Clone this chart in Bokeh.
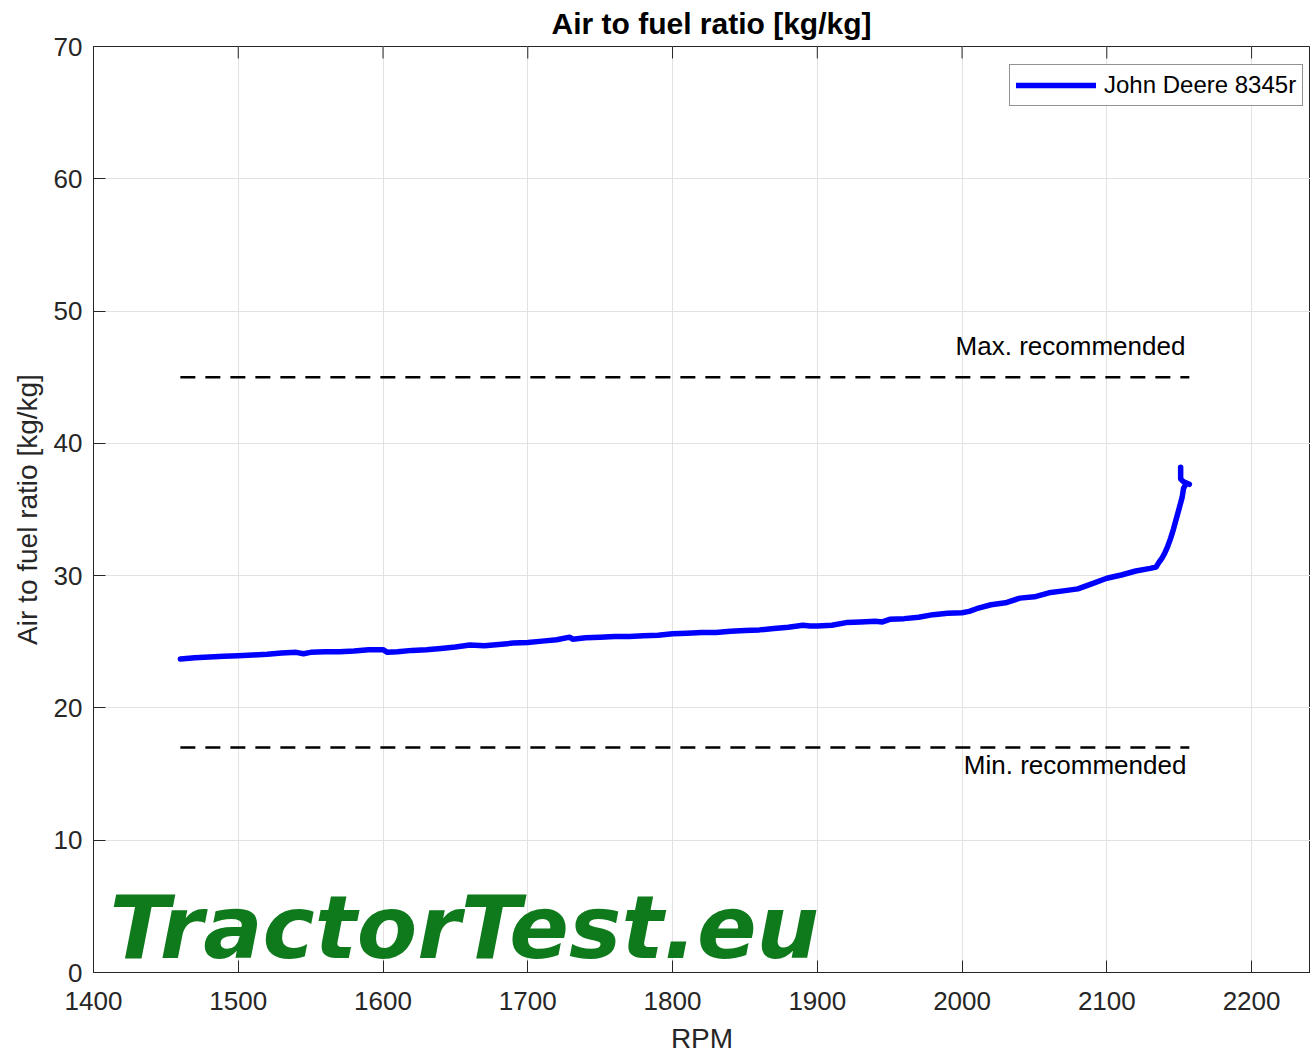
from bokeh.plotting import figure
from bokeh.models import Range1d, Label, Legend, LegendItem, FixedTicker
from bokeh.embed import file_html
from bokeh.resources import INLINE

# ---- data ----
rpm = [1460, 1470, 1480, 1490, 1500, 1510, 1520, 1530, 1540, 1545, 1550, 1560, 1570, 1580,
       1590, 1600, 1603, 1610, 1620, 1630, 1640, 1650, 1660, 1670, 1680, 1690, 1700, 1710,
       1720, 1729, 1731, 1740, 1750, 1760, 1770, 1780, 1790, 1800, 1810, 1820, 1830, 1840,
       1850, 1860, 1870, 1880, 1890, 1895, 1900, 1910, 1920, 1930, 1940, 1945, 1950, 1960,
       1970, 1980, 1990, 2000, 2005, 2010, 2020, 2030, 2040, 2050, 2060, 2070, 2080, 2090,
       2100, 2110, 2120, 2130, 2134, 2136, 2138, 2140, 2142, 2144, 2146, 2148, 2150, 2152,
       2153, 2155, 2157, 2153, 2151, 2151]
afr = [23.7, 23.8, 23.85, 23.9, 23.95, 24.0, 24.05, 24.15, 24.2, 24.1, 24.2, 24.25, 24.25, 24.3,
       24.4, 24.4, 24.2, 24.25, 24.35, 24.4, 24.5, 24.6, 24.75, 24.7, 24.8, 24.9, 24.95, 25.05,
       25.15, 25.35, 25.2, 25.3, 25.35, 25.4, 25.4, 25.45, 25.5, 25.6, 25.65, 25.7, 25.7, 25.8,
       25.85, 25.9, 26.0, 26.1, 26.25, 26.2, 26.2, 26.25, 26.45, 26.5, 26.55, 26.5, 26.7, 26.75,
       26.85, 27.05, 27.15, 27.2, 27.3, 27.5, 27.8, 27.95, 28.3, 28.4, 28.7, 28.85, 29.0, 29.4,
       29.8, 30.05, 30.35, 30.55, 30.65, 31.0, 31.3, 31.7, 32.2, 32.8, 33.5, 34.3, 35.1, 35.9,
       36.6, 37.0, 36.9, 37.1, 37.3, 38.2]
series_name = "John Deere 8345r"
max_recommended = 45
min_recommended = 17
x_ticks = [1400, 1500, 1600, 1700, 1800, 1900, 2000, 2100, 2200]
y_ticks = [0, 10, 20, 30, 40, 50, 60, 70]

FONT = "Liberation Sans"
AX = "#262626"
X_START, X_END = 1400, 2240.7
Y_START, Y_END = 0, 70
FRAME_H = 1056 - 46 - 84
TICK_LEN = 12

p = figure(width=1310, height=1056, x_range=Range1d(X_START, X_END), y_range=Range1d(Y_START, Y_END),
           output_backend="svg", toolbar_location=None,
           min_border_left=93, min_border_right=0, min_border_top=46, min_border_bottom=84)
p.outline_line_color = AX
p.outline_line_width = 1
p.background_fill_color = "white"

p.title.text = "Air to fuel ratio [kg/kg]"
p.title.text_font = FONT
p.title.text_font_size = "30px"
p.title.text_font_style = "bold"
p.title.text_color = "black"
p.title.align = "left"
p.title.offset = 458
p.title.standoff = 10
p.title.vertical_align = "top"

for ax in (p.xaxis[0], p.yaxis[0]):
    ax.axis_line_color = AX
    ax.major_tick_line_color = AX
    ax.major_tick_in = TICK_LEN
    ax.major_tick_out = 0
    ax.minor_tick_line_color = None
    ax.major_label_text_font = FONT
    ax.major_label_text_font_size = "26px"
    ax.major_label_text_color = AX
    ax.axis_label_text_font = FONT
    ax.axis_label_text_font_size = "28px"
    ax.axis_label_text_font_style = "normal"
    ax.axis_label_text_color = AX

p.xaxis.ticker = FixedTicker(ticks=x_ticks)
p.yaxis.ticker = FixedTicker(ticks=y_ticks)
p.xaxis.axis_label = "RPM"
p.yaxis.axis_label = "Air to fuel ratio [kg/kg]"
p.xaxis.major_label_standoff = 19
p.xaxis.axis_label_standoff = 10
p.yaxis.major_label_standoff = 11
p.yaxis.axis_label_standoff = 8

p.xgrid.ticker = FixedTicker(ticks=x_ticks)
p.ygrid.ticker = FixedTicker(ticks=y_ticks)
p.xgrid.grid_line_color = "#e2e2e2"
p.ygrid.grid_line_color = "#e2e2e2"

# inward tick marks on the top edge (mirrored x ticks)
tick_len_data = TICK_LEN * (Y_END - Y_START) / FRAME_H
p.segment(x0=x_ticks, y0=[Y_END] * len(x_ticks), x1=x_ticks,
          y1=[Y_END - tick_len_data] * len(x_ticks), line_color=AX, line_width=1)

# recommended lines
x0, x1 = min(rpm), max(rpm)
p.line([x0, x1], [max_recommended, max_recommended], line_color="black", line_width=2.5,
       line_dash="15 10")
p.line([x0, x1], [min_recommended, min_recommended], line_color="black", line_width=2.5,
       line_dash="15 10")
p.add_layout(Label(x=x1, y=max_recommended, text="Max. recommended", text_align="right",
                   text_baseline="alphabetic", x_offset=-4, y_offset=31, text_font=FONT,
                   text_font_size="26px", text_color="black"))
p.add_layout(Label(x=x1, y=min_recommended, text="Min. recommended", text_align="right",
                   text_baseline="top", x_offset=-3, y_offset=-2, text_font=FONT,
                   text_font_size="26px", text_color="black"))

# watermark
p.add_layout(Label(x=1411, y=1.3, text="TractorTest.eu", text_align="left",
                   text_baseline="alphabetic", y_offset=28, text_font="DejaVu Sans",
                   text_font_style="bold italic", text_font_size="88px",
                   text_color="#0f7a1c"))

r = p.line(rpm, afr, line_color="#0000ff", line_width=5.5, line_join="round", line_cap="round")

legend = Legend(items=[LegendItem(label=series_name, renderers=[r])], location=(916, 866),
                margin=0, padding=6, glyph_width=80, label_standoff=8,
                label_text_font=FONT, label_text_font_size="24px", label_text_color="black",
                border_line_color=AX, border_line_width=1, background_fill_alpha=1)
p.add_layout(legend)

open("out.html", "w").write(file_html(p, INLINE))
